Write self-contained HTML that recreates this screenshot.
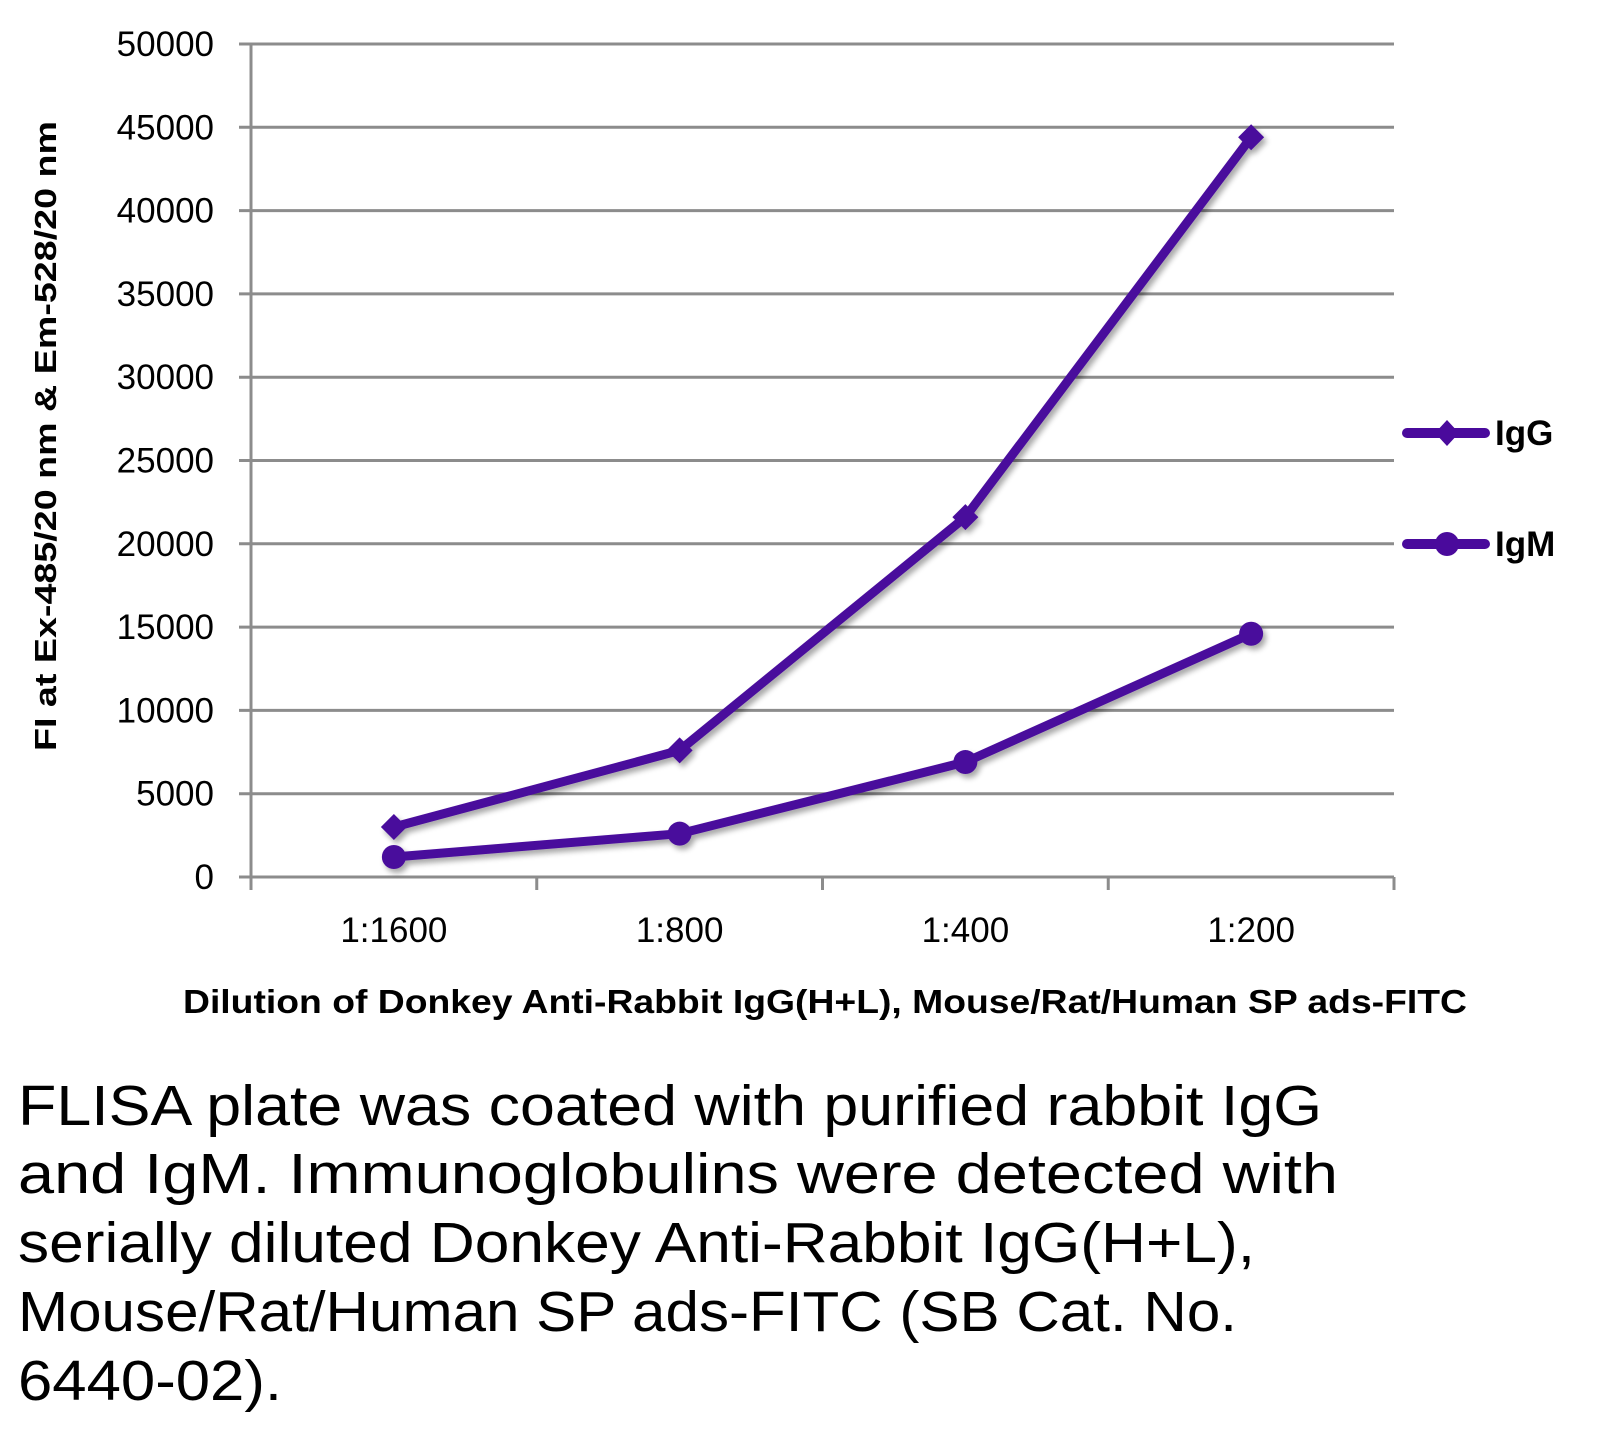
<!DOCTYPE html>
<html><head><meta charset="utf-8"><style>
html,body{margin:0;padding:0;background:#fff;}
svg{display:block;font-family:"Liberation Sans",sans-serif;}
</style></head><body>
<svg width="1610" height="1429" viewBox="0 0 1610 1429">
<defs><filter id="sh" x="-10%" y="-10%" width="120%" height="120%"><feGaussianBlur in="SourceAlpha" stdDeviation="3"/><feOffset dx="3" dy="4"/><feComponentTransfer><feFuncA type="linear" slope="0.35"/></feComponentTransfer><feMerge><feMergeNode/><feMergeNode in="SourceGraphic"/></feMerge></filter></defs>
<g id="grid"></g>
<g id="axes"></g>
<g id="series" filter="url(#sh)"></g>
<text x="56" y="436" transform="rotate(-90 56 436)" text-anchor="middle" font-weight="bold" font-size="31" textLength="630" lengthAdjust="spacingAndGlyphs">FI at Ex-485/20 nm &amp; Em-528/20 nm</text>
<text x="183" y="1013" font-weight="bold" font-size="33" textLength="1284" lengthAdjust="spacingAndGlyphs">Dilution of Donkey Anti-Rabbit IgG(H+L), Mouse/Rat/Human SP ads-FITC</text>
<g>
<g>
<line x1="1407" y1="433" x2="1485" y2="433" stroke="#4a0a9c" stroke-width="10" stroke-linecap="round"/>
<polygon points="1447,420 1459,433 1447,446 1435,433" fill="#4a0a9c"/>
<text x="1495" y="445" font-weight="bold" font-size="35">IgG</text></g>
<g>
<line x1="1407" y1="544" x2="1485" y2="544" stroke="#4a0a9c" stroke-width="10" stroke-linecap="round"/>
<circle cx="1447" cy="544" r="12" fill="#4a0a9c"/>
<text x="1495" y="556" font-weight="bold" font-size="35">IgM</text></g>
</g>
<g font-size="57">
<text x="18" y="1125" textLength="1304" lengthAdjust="spacingAndGlyphs">FLISA plate was coated with purified rabbit IgG</text>
<text x="18" y="1193" textLength="1320" lengthAdjust="spacingAndGlyphs">and IgM.  Immunoglobulins were detected with</text>
<text x="18" y="1262" textLength="1237" lengthAdjust="spacingAndGlyphs">serially diluted Donkey Anti-Rabbit IgG(H+L),</text>
<text x="18" y="1331" textLength="1219" lengthAdjust="spacingAndGlyphs">Mouse/Rat/Human SP ads-FITC (SB Cat. No.</text>
<text x="18" y="1400" textLength="264" lengthAdjust="spacingAndGlyphs">6440-02).</text>
</g>
</svg>
<script>
const categories = ["1:1600","1:800","1:400","1:200"];
const iggValues = [3000, 7600, 21600, 44400];
const igmValues = [1200, 2600, 6900, 14600];
const yTicks = [0,5000,10000,15000,20000,25000,30000,35000,40000,45000,50000];
const NS="http://www.w3.org/2000/svg";
const L=251,R=1394,T=44,B=877,yMax=50000;
const band=(R-L)/categories.length;
const xs=i=>L+band*(i+0.5);
const ys=v=>B-(v/yMax)*(B-T);
function mk(tag,attrs,parent){const e=document.createElementNS(NS,tag);for(const k in attrs)e.setAttribute(k,attrs[k]);parent.appendChild(e);return e;}
const grid=document.getElementById('grid'),axes=document.getElementById('axes'),series=document.getElementById('series');
yTicks.forEach(v=>{
 if(v>0){const g=mk('line',{x1:239,x2:R,y1:ys(v),y2:ys(v),stroke:'#8c8c8c','stroke-width':3},grid);
 
 }
 const t=mk('text',{x:214,y:ys(v)+12,'text-anchor':'end','font-size':35},axes);
 t.textContent=v;
 
 
});
const ax=mk('line',{x1:L,x2:L,y1:T,y2:890,stroke:'#8c8c8c','stroke-width':3},axes);


const bx=mk('line',{x1:239,x2:R,y1:B,y2:B,stroke:'#8c8c8c','stroke-width':3},axes);


for(let i=0;i<=categories.length;i++){const tk=mk('line',{x1:L+band*i,x2:L+band*i,y1:B,y2:890,stroke:'#8c8c8c','stroke-width':3},axes);
 
 }
categories.forEach((c,i)=>{const t=mk('text',{x:xs(i),y:942,'text-anchor':'middle','font-size':35},axes);
 t.textContent=c;
 
 });
function drawSeries(vals,name,marker){
 const p=mk('polyline',{points:vals.map((v,i)=>xs(i)+','+ys(v)).join(' '),fill:'none',stroke:'#4a0a9c','stroke-width':9,'stroke-linejoin':'round'},series);
 
 
 vals.forEach((v,i)=>{const x=xs(i),y=ys(v);let m;
  if(marker==='diamond')m=mk('polygon',{points:`${x},${y-13} ${x+13},${y} ${x},${y+13} ${x-13},${y}`,fill:'#4a0a9c'},series);
  else m=mk('circle',{cx:x,cy:y,r:12,fill:'#4a0a9c'},series);
  
  });
}
drawSeries(iggValues,'igg','diamond');
drawSeries(igmValues,'igm','circle');
</script>
</body></html>
